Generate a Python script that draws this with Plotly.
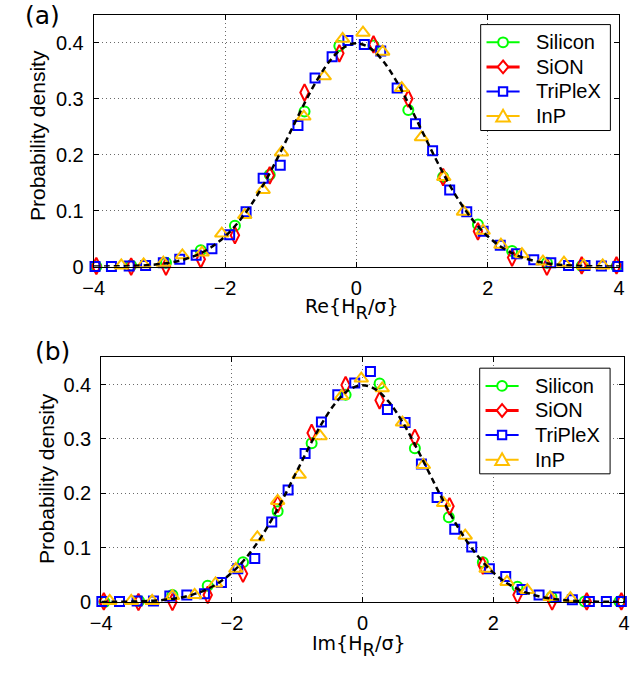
import plotly.graph_objects as go

# ---------------- data ----------------
# Panel (a): Re{H_R/sigma}
re_si_x = [-3.96, -3.43, -2.90, -2.37, -1.85, -1.32, -0.79, -0.26, 0.26, 0.79, 1.32, 1.85, 2.37, 2.90, 3.43, 3.96]
re_si_y = [0.000, 0.002, 0.007, 0.029, 0.073, 0.164, 0.277, 0.394, 0.395, 0.280, 0.160, 0.075, 0.028, 0.007, 0.001, 0.000]
re_sion_x = [-3.96, -3.43, -2.90, -2.37, -1.85, -1.32, -0.79, -0.26, 0.26, 0.79, 1.32, 1.85, 2.37, 2.90, 3.43, 3.96]
re_sion_y = [0.001, 0.000, 0.000, 0.013, 0.056, 0.163, 0.311, 0.381, 0.397, 0.300, 0.160, 0.063, 0.016, 0.000, 0.002, 0.002]
re_tri_x = [-3.98, -3.73, -3.46, -3.21, -2.94, -2.69, -2.44, -2.20, -1.93, -1.68, -1.42, -1.16, -0.89, -0.63, -0.37, -0.13,
            0.12, 0.37, 0.62, 0.90, 1.16, 1.42, 1.68, 1.93, 2.19, 2.44, 2.70, 2.96, 3.23, 3.48, 3.73, 3.98]
re_tri_y = [0.000, 0.000, 0.001, 0.002, 0.007, 0.013, 0.020, 0.032, 0.057, 0.098, 0.158, 0.181, 0.252, 0.337, 0.375, 0.404,
            0.397, 0.385, 0.319, 0.255, 0.207, 0.137, 0.098, 0.063, 0.038, 0.023, 0.012, 0.007, 0.002, 0.002, 0.001, 0.000]
re_inp_x = [-3.58, -3.24, -2.94, -2.65, -2.35, -2.05, -1.70, -1.42, -1.14, -0.80, -0.49, -0.21, 0.10, 0.40, 0.69, 0.99,
            1.33, 1.63, 1.93, 2.20, 2.52, 2.84, 3.16, 3.46, 3.75]
re_inp_y = [0.002, 0.004, 0.007, 0.020, 0.025, 0.059, 0.092, 0.137, 0.204, 0.268, 0.340, 0.407, 0.418, 0.384, 0.319, 0.231,
            0.160, 0.098, 0.064, 0.039, 0.022, 0.009, 0.007, 0.002, 0.002]

# Panel (b): Im{H_R/sigma}
im_si_x = [-3.95, -3.42, -2.91, -2.37, -1.83, -1.30, -0.78, -0.26, 0.26, 0.80, 1.32, 1.84, 2.37, 2.89, 3.40, 3.93]
im_si_y = [0.000, 0.002, 0.013, 0.030, 0.073, 0.167, 0.292, 0.381, 0.402, 0.283, 0.156, 0.073, 0.028, 0.009, 0.001, 0.001]
im_sion_x = [-3.96, -3.43, -2.91, -2.37, -1.83, -1.30, -0.78, -0.26, 0.26, 0.80, 1.33, 1.84, 2.37, 2.90, 3.43, 3.96]
im_sion_y = [0.001, 0.000, 0.000, 0.013, 0.052, 0.180, 0.311, 0.399, 0.371, 0.302, 0.176, 0.067, 0.013, 0.001, 0.001, 0.001]
im_tri_x = [-3.99, -3.72, -3.45, -3.20, -2.95, -2.69, -2.42, -2.16, -1.91, -1.65, -1.39, -1.14, -0.88, -0.63, -0.38, -0.12,
            0.12, 0.38, 0.65, 0.90, 1.14, 1.41, 1.67, 1.94, 2.19, 2.44, 2.70, 2.96, 3.21, 3.47, 3.73, 3.96]
im_tri_y = [0.001, 0.001, 0.002, 0.002, 0.011, 0.013, 0.015, 0.036, 0.061, 0.080, 0.147, 0.206, 0.273, 0.331, 0.381, 0.403,
            0.424, 0.354, 0.330, 0.254, 0.192, 0.134, 0.101, 0.061, 0.047, 0.023, 0.013, 0.009, 0.004, 0.001, 0.001, 0.001]
im_inp_x = [-3.87, -3.54, -3.22, -2.91, -2.57, -2.25, -1.94, -1.61, -1.30, -0.97, -0.65, -0.32, -0.02, 0.30, 0.61, 0.93,
            1.24, 1.57, 1.89, 2.21, 2.52, 2.87, 3.18]
im_inp_y = [0.002, 0.002, 0.002, 0.011, 0.013, 0.034, 0.061, 0.119, 0.186, 0.234, 0.305, 0.379, 0.411, 0.393, 0.330, 0.252,
            0.182, 0.122, 0.061, 0.037, 0.022, 0.009, 0.007]

# reference Gaussian (dashed curve)
gauss_x = [-4.0, -3.8, -3.6, -3.4, -3.2, -3.0, -2.8, -2.6, -2.4, -2.2, -2.0, -1.8, -1.6, -1.4, -1.2, -1.0, -0.8, -0.6, -0.4, -0.2,
           0.0, 0.2, 0.4, 0.6, 0.8, 1.0, 1.2, 1.4, 1.6, 1.8, 2.0, 2.2, 2.4, 2.6, 2.8, 3.0, 3.2, 3.4, 3.6, 3.8, 4.0]
gauss_y = [0.0001, 0.0003, 0.0006, 0.0012, 0.0024, 0.0044, 0.0079, 0.0136, 0.0224, 0.0355, 0.0540, 0.0790, 0.1109, 0.1497,
           0.1942, 0.2420, 0.2897, 0.3332, 0.3683, 0.3910, 0.3989, 0.3910, 0.3683, 0.3332, 0.2897, 0.2420, 0.1942, 0.1497,
           0.1109, 0.0790, 0.0540, 0.0355, 0.0224, 0.0136, 0.0079, 0.0044, 0.0024, 0.0012, 0.0006, 0.0003, 0.0001]

series_names = ["Silicon", "SiON", "TriPleX", "InP"]
x_ticks = [-4, -2, 0, 2, 4]
y_ticks = [0, 0.1, 0.2, 0.3, 0.4]
y_tick_text = ["0", "0.1", "0.2", "0.3", "0.4"]

# ---------------- styling ----------------
W, H = 630, 673
colors = ["#00ff00", "#ff0000", "#0000ff", "#ffbf00"]
symbols = ["circle-open", "diamond-tall-open", "square-open", "triangle-up-open"]
sizes = [10, 12, 9, 12]
legend_kinds = ["circle", "diamond", "square", "triangle"]
legend_line_w = [2, 3, 2, 2]
TICK_FONT = dict(family="Liberation Sans, Arial, sans-serif", size=20, color="black")
LEG_FONT = dict(family="Liberation Sans, Arial, sans-serif", size=20, color="black")

fig = go.Figure()

panels = [
    ("x", "y", [(re_si_x, re_si_y), (re_sion_x, re_sion_y), (re_tri_x, re_tri_y), (re_inp_x, re_inp_y)]),
    ("x2", "y2", [(im_si_x, im_si_y), (im_sion_x, im_sion_y), (im_tri_x, im_tri_y), (im_inp_x, im_inp_y)]),
]

for xa, ya, data in panels:
    for i, (xs, ys) in enumerate(data):
        fig.add_trace(go.Scatter(
            x=xs, y=ys, mode="markers", xaxis=xa, yaxis=ya, name=series_names[i], showlegend=False,
            cliponaxis=False,
            marker=dict(symbol=symbols[i], size=sizes[i], color=colors[i], line=dict(color=colors[i], width=2)),
        ))
    fig.add_trace(go.Scatter(
        x=gauss_x, y=gauss_y, mode="lines", xaxis=xa, yaxis=ya, showlegend=False,
        line=dict(color="black", width=2.5, dash="6px,4px", shape="spline"),
    ))

axis_common = dict(
    showline=True, linecolor="black", linewidth=1, mirror="ticks",
    ticks="inside", ticklen=5, tickcolor="black", tickwidth=1,
    showgrid=True, gridcolor="#6a6a6a", griddash="1px,3px", gridwidth=1,
    zeroline=False, tickfont=TICK_FONT,
)


def px_x(p):
    return p / W


def px_y(p):
    return 1 - p / H


fig.update_layout(
    width=W, height=H, margin=dict(l=0, r=0, t=0, b=0),
    paper_bgcolor="white", plot_bgcolor="white", showlegend=False,
    xaxis=dict(domain=[px_x(85), px_x(625)], range=[-4, 4], tickvals=x_ticks, anchor="y",
               ticklabelstandoff=3, **axis_common),
    yaxis=dict(domain=[px_y(271), px_y(15)], range=[0, 0.45], tickvals=y_ticks, ticktext=y_tick_text, anchor="x",
               ticklabelstandoff=5, **axis_common),
    xaxis2=dict(domain=[px_x(92.7), 1.0], range=[-4, 4], tickvals=x_ticks, anchor="y2",
                ticklabelstandoff=3, **axis_common),
    yaxis2=dict(domain=[px_y(612), px_y(363.3)], range=[0, 0.45], tickvals=y_ticks, ticktext=y_tick_text, anchor="x2",
                ticklabelstandoff=5, **axis_common),
)


# ---------------- legend boxes (drawn as layout shapes + text) ----------------
def add_legend(left, top, right, bottom):
    fig.add_shape(type="rect", xref="paper", yref="paper", layer="above",
                  x0=px_x(left), x1=px_x(right), y0=px_y(bottom), y1=px_y(top),
                  line=dict(color="black", width=1), fillcolor="white")
    for i, name in enumerate(series_names):
        cy = top + 18 + 25 * i
        x0, x1 = left + 6, left + 40
        cx = (x0 + x1) / 2
        col = colors[i]
        fig.add_shape(type="line", xref="paper", yref="paper", layer="above",
                      x0=px_x(x0), x1=px_x(x1), y0=px_y(cy), y1=px_y(cy),
                      line=dict(color=col, width=legend_line_w[i]))
        kind = legend_kinds[i]
        mline = dict(color=col, width=2)
        if kind == "circle":
            r = 5
            fig.add_shape(type="circle", xref="paper", yref="paper", layer="above",
                          x0=px_x(cx - r), x1=px_x(cx + r), y0=px_y(cy + r), y1=px_y(cy - r),
                          line=mline, fillcolor="white")
        elif kind == "square":
            r = 4.3
            fig.add_shape(type="rect", xref="paper", yref="paper", layer="above",
                          x0=px_x(cx - r), x1=px_x(cx + r), y0=px_y(cy + r), y1=px_y(cy - r),
                          line=mline, fillcolor="white")
        elif kind == "diamond":
            hw, hh = 5.5, 6.5
            pts = [(cx, cy - hh), (cx + hw, cy), (cx, cy + hh), (cx - hw, cy)]
            path = "M " + " L ".join(f"{px_x(a):.5f},{px_y(b):.5f}" for a, b in pts) + " Z"
            fig.add_shape(type="path", xref="paper", yref="paper", layer="above", path=path,
                          line=mline, fillcolor="white")
        else:
            hw, hh = 7, 5.5
            pts = [(cx, cy - hh - 1), (cx + hw, cy + hh), (cx - hw, cy + hh)]
            path = "M " + " L ".join(f"{px_x(a):.5f},{px_y(b):.5f}" for a, b in pts) + " Z"
            fig.add_shape(type="path", xref="paper", yref="paper", layer="above", path=path,
                          line=mline, fillcolor="white")
        fig.add_annotation(xref="paper", yref="paper", showarrow=False, xanchor="left", yanchor="middle",
                           x=px_x(left + 55), y=px_y(cy), text=name, font=LEG_FONT)


add_legend(482.7, 25, 616, 132.7)
add_legend(481.7, 374.3, 615.7, 481.7)

LBL_FONT = dict(family="DejaVu Sans, sans-serif", size=19, color="black")
YL_FONT = dict(family="Liberation Sans, Arial, sans-serif", size=21, color="black")
PANEL_FONT = dict(family="DejaVu Sans, sans-serif", size=25, color="black")
SUB = "<span style='font-size:18px;baseline-shift:-0.35em'>R</span>"

annotations = [
    dict(text="Re{H" + SUB + "/σ}", x=px_x(350), y=px_y(314), font=LBL_FONT),
    dict(text="Im{H" + SUB + "/σ}", x=px_x(358), y=px_y(657), font=LBL_FONT),
    dict(text="Probability density", x=px_x(27), y=px_y(138), font=YL_FONT, textangle=-90),
    dict(text="Probability density", x=px_x(36), y=px_y(487), font=YL_FONT, textangle=-90),
    dict(text="(a)", x=px_x(32), y=px_y(16), font=PANEL_FONT),
    dict(text="(b)", x=px_x(42.5), y=px_y(357.5), font=PANEL_FONT),
]
for a in annotations:
    fig.add_annotation(xref="paper", yref="paper", showarrow=False, xanchor="center", yanchor="middle", **a)

fig.write_html("out.html")
